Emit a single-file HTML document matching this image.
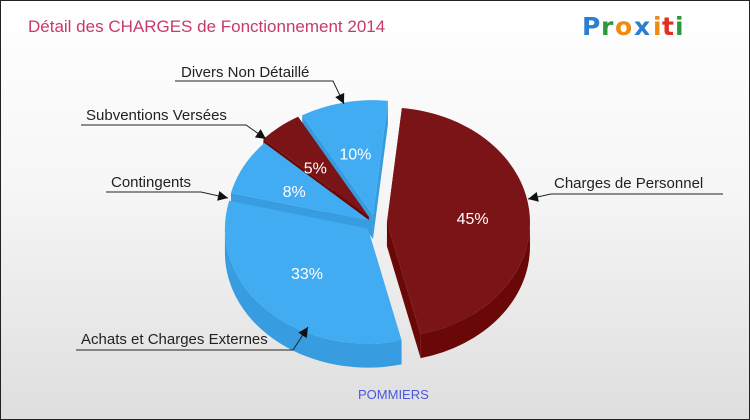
<!DOCTYPE html>
<html><head><meta charset="utf-8"><style>
html,body{margin:0;padding:0}
body{width:750px;height:420px;overflow:hidden}
#wrap{position:relative;width:748px;height:418px;border:1px solid #222;background:linear-gradient(#ffffff 0%,#f6f6f6 45%,#dedede 100%);font-family:"Liberation Sans",sans-serif}
svg{position:absolute;left:0;top:0}
</style></head><body>
<div id="wrap">
<svg id="chart" width="748" height="418">
<text x="27" y="31" font-size="17" fill="#c8386e">Détail des CHARGES de Fonctionnement 2014</text>
<g font-family="'DejaVu Sans',sans-serif" font-weight="bold" font-size="25">
<text x="581" y="34" fill="#2a7fd0">P</text><text x="600" y="34" fill="#2c9a3a">r</text><text x="614" y="34" fill="#f08a10">o</text><text x="633" y="34" fill="#2a7fd0">x</text><text x="652" y="34" fill="#f08a10">i</text><text x="661" y="34" fill="#e03020">t</text><text x="674" y="34" fill="#2c9a3a">i</text></g>
<text x="357" y="398" font-size="13" fill="#4a58dd">POMMIERS</text>
<g id="slices"></g>
<g id="labels" font-size="15" fill="#222"></g>
</svg>
</div>
<script>
const categories=["Charges de Personnel","Achats et Charges Externes","Contingents","Subventions Versées","Divers Non Détaillé"];
const values=[45,33,8,5,10];
const pctLabels=["45%","33%","8%","5%","10%"];
const colorKeys=["red","blue","blue","red","blue"];
const NS="http://www.w3.org/2000/svg";
const cx=374,cy=222,rx=143,ry=115,depth=24;
const pal={red:{top:"#7b1416",side:"#6a0808"},blue:{top:"#42acf2",side:"#389ce0"}};
const explode=[12,10,6,10,10];
const g=document.getElementById('slices');
const total=values.reduce((a,b)=>a+b,0);
function pt(ox,oy,a,d){return [ox+rx*Math.cos(a),oy+ry*Math.sin(a)+(d||0)];}
function mk(d,fill,name){const p=document.createElementNS(NS,'path');p.setAttribute('d',d);p.setAttribute('fill',fill);


return p;}
let a=-84*Math.PI/180;const sl=[];
values.forEach((v,i)=>{const span=v/total*2*Math.PI;sl.push({i,a0:a,a1:a+span,mid:a+span/2});a+=span;});
const order=sl.slice().sort((p,q)=>Math.sin(p.mid)-Math.sin(q.mid));
order.forEach(s=>{
 const c=pal[colorKeys[s.i]];
 const ox=cx+explode[s.i]*Math.cos(s.mid),oy=cy+explode[s.i]*0.8*Math.sin(s.mid);
 const grp=document.createElementNS(NS,'g');
 
 
 const p0=pt(ox,oy,s.a0),p1=pt(ox,oy,s.a1);
 const large=(s.a1-s.a0)>Math.PI?1:0;
 [s.a0,s.a1].forEach(an=>{const q=pt(ox,oy,an);
  grp.appendChild(mk(`M${ox},${oy}L${q[0]},${q[1]}L${q[0]},${q[1]+depth}L${ox},${oy+depth}Z`,c.side,'slice-wall'));});
 const segs=[];
 for(let k=-1;k<=1;k++){const lo=Math.max(s.a0,k*2*Math.PI),hi=Math.min(s.a1,k*2*Math.PI+Math.PI);if(hi>lo)segs.push([lo,hi]);}
 segs.forEach(([lo,hi])=>{const q0=pt(ox,oy,lo),q1=pt(ox,oy,hi);
  grp.appendChild(mk(`M${q0[0]},${q0[1]}A${rx},${ry} 0 0 1 ${q1[0]},${q1[1]}L${q1[0]},${q1[1]+depth}A${rx},${ry} 0 0 0 ${q0[0]},${q0[1]+depth}Z`,c.side,'slice-outer-wall'));});
 grp.appendChild(mk(`M${ox},${oy}L${p0[0]},${p0[1]}A${rx},${ry} 0 ${large} 1 ${p1[0]},${p1[1]}Z`,c.top,'slice-top'));
 const lp=[ox+rx*0.6*Math.cos(s.mid),oy+ry*0.55*Math.sin(s.mid)];
 const t=document.createElementNS(NS,'text');t.setAttribute('x',lp[0]);t.setAttribute('y',lp[1]+6);t.setAttribute('text-anchor','middle');t.setAttribute('font-size','16');t.setAttribute('fill','#fff');t.textContent=pctLabels[s.i];
 
 
 grp.appendChild(t);
 g.appendChild(grp);
});
const lab=[[553,187,550,722,193,527,198,0],[80,343,75,292,349,307,326,1],[110,186,105,200,191,227,197,2],[85,119,80,245,124,265,138,3],[180,76,174,332,80,343,103,4]];
const L=document.getElementById('labels');
lab.forEach(([tx,ty,u0,u1,uy,ax,ay,i])=>{
 const t=document.createElementNS(NS,'text');t.setAttribute('x',tx);t.setAttribute('y',ty);t.textContent=categories[i];
 
 
 L.appendChild(t);
 const near=(Math.abs(ax-u0)<Math.abs(ax-u1))?u0:u1;
 const pl=document.createElementNS(NS,'polyline');
 pl.setAttribute('points',`${near===u0?u1:u0},${uy} ${near},${uy} ${ax},${ay}`);
 pl.setAttribute('fill','none');pl.setAttribute('stroke','#222');pl.setAttribute('stroke-width','1');
 
 
 L.appendChild(pl);
 const ang=Math.atan2(ay-uy,ax-near),s=10,w=5;
 const bx=ax-s*Math.cos(ang),by=ay-s*Math.sin(ang);
 const ar=document.createElementNS(NS,'polygon');
 ar.setAttribute('points',`${ax},${ay} ${bx+w*Math.sin(ang)},${by-w*Math.cos(ang)} ${bx-w*Math.sin(ang)},${by+w*Math.cos(ang)}`);
 ar.setAttribute('fill','#111');
 
 
 L.appendChild(ar);
});
</script>
</body></html>
